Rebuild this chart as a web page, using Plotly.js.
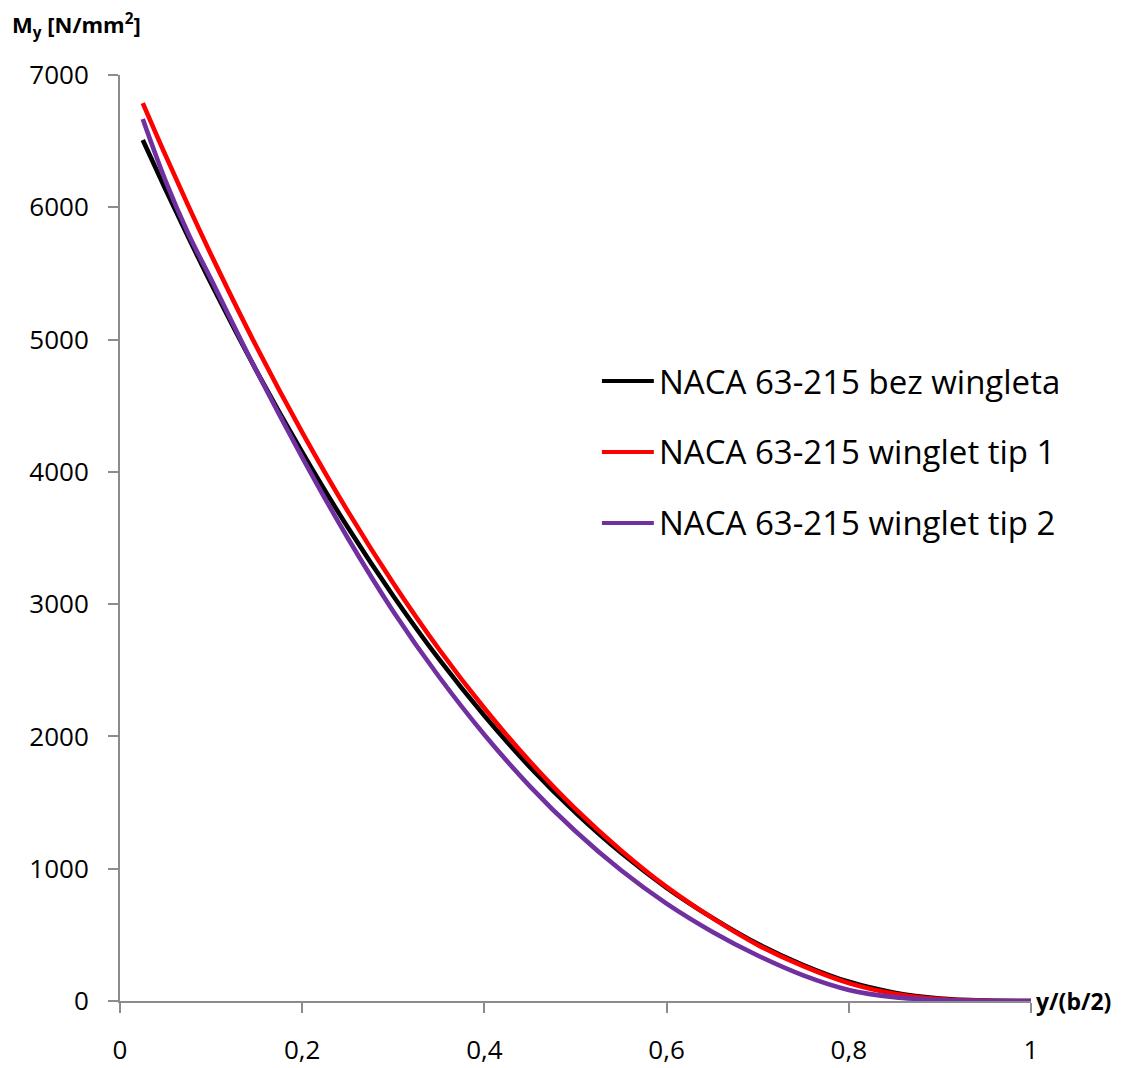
<!DOCTYPE html>
<html>
<head>
<meta charset="utf-8">
<script src="https://cdn.plot.ly/plotly-3.0.1.min.js"></script>
<style>
  html, body { margin: 0; padding: 0; background: #ffffff; }
  #chart { width: 1125px; height: 1068px; }
</style>
</head>
<body>
<div id="chart"></div>
<script>
// Span position y/(b/2)
const spanPos = [0.025, 0.05, 0.075, 0.1, 0.15, 0.2, 0.25, 0.3, 0.35, 0.4, 0.45, 0.5,
                 0.55, 0.6, 0.65, 0.7, 0.75, 0.8, 0.85, 0.9, 0.95, 1];
// NACA 63-215 bez wingleta
const bezWingleta = [6508, 6135, 5773, 5424, 4762, 4149, 3581, 3062, 2586, 2156, 1768, 1424,
                     1120, 856, 630, 432, 272, 145, 63, 19, 3, 0];
// NACA 63-215 winglet tip 1
const wingletTip1 = [6788, 6392, 6011, 5642, 4944, 4299, 3703, 3158, 2661, 2213, 1810, 1452,
                     1138, 862, 628, 424, 263, 135, 55, 15, 2, 0];
// NACA 63-215 winglet tip 2
const wingletTip2 = [6667, 6200, 5800, 5455, 4760, 4110, 3500, 2945, 2453, 2013, 1623, 1283,
                     988, 736, 524, 344, 194, 84, 29, 7, 1, 0];

const seriesNames = ['NACA 63-215 bez wingleta', 'NACA 63-215 winglet tip 1', 'NACA 63-215 winglet tip 2'];
const seriesValues = [bezWingleta, wingletTip1, wingletTip2];
const seriesColors = ['#000000', '#FF0000', '#7030A0'];
const xTicks = [0, 0.2, 0.4, 0.6, 0.8, 1];
const yTicks = [0, 1000, 2000, 3000, 4000, 5000, 6000, 7000];

const FONT = 'Open Sans, Lato, Liberation Sans, sans-serif';

const traces = seriesNames.map((name, i) => ({
  type: 'scatter',
  mode: 'lines',
  name: name,
  x: spanPos,
  y: seriesValues[i],
  line: { color: seriesColors[i], width: 4.6, shape: 'spline', smoothing: 1 },
  hoverinfo: 'x+y'
}));

const axisColor = '#8c8c8c';

// Legend drawn as paper-positioned samples + labels (Excel-style long line samples)
const legendRowsY = [0.6695, 0.5929, 0.5162];
const legendShapes = seriesNames.map((name, i) => ({
  type: 'line', xref: 'paper', yref: 'paper',
  x0: 0.529, x1: 0.586, y0: legendRowsY[i], y1: legendRowsY[i],
  line: { color: seriesColors[i], width: 4 }
}));
const legendLabels = seriesNames.map((name, i) => ({
  text: name,
  xref: 'paper', yref: 'paper',
  x: 0.589, y: legendRowsY[i],
  xanchor: 'left', yanchor: 'middle',
  showarrow: false,
  font: { family: FONT, size: 33, color: '#000000' }
}));

const layout = {
  width: 1125,
  height: 1068,
  margin: { l: 120, r: 94, t: 75, b: 67, pad: 0 },
  paper_bgcolor: '#ffffff',
  plot_bgcolor: '#ffffff',
  separators: ', ',
  font: { family: FONT, color: '#000000', size: 26 },
  showlegend: false,
  xaxis: {
    range: [0, 1],
    tickvals: xTicks,
    tickformat: '.1~f',
    showgrid: false,
    zeroline: false,
    showline: true,
    linecolor: axisColor,
    linewidth: 2,
    ticks: 'outside',
    ticklen: 10,
    tickwidth: 2,
    tickcolor: axisColor,
    ticklabelstandoff: 15,
    tickfont: { family: FONT, size: 26, color: '#000000' },
    fixedrange: true
  },
  yaxis: {
    range: [0, 7000],
    tickvals: yTicks,
    tickformat: 'd',
    showgrid: false,
    zeroline: false,
    showline: true,
    linecolor: axisColor,
    linewidth: 2,
    ticks: 'outside',
    ticklen: 10,
    tickwidth: 2,
    tickcolor: axisColor,
    ticklabelstandoff: 14,
    tickfont: { family: FONT, size: 26, color: '#000000' },
    fixedrange: true
  },
  shapes: legendShapes,
  annotations: [
    {
      text: '<b>M<sub>y</sub> [N/mm<sup>2</sup>]</b>',
      xref: 'paper', yref: 'paper',
      x: -0.121, y: 1.053,
      xanchor: 'left', yanchor: 'middle',
      showarrow: false,
      font: { family: FONT, size: 22, color: '#000000' }
    },
    {
      text: '<b>y/(b/2)</b>',
      xref: 'paper', yref: 'paper',
      x: 1.003, y: 0.0,
      xanchor: 'left', yanchor: 'middle',
      showarrow: false,
      font: { family: FONT, size: 23, color: '#000000' }
    }
  ].concat(legendLabels)
};

Plotly.newPlot('chart', traces, layout, { displayModeBar: false, staticPlot: true });
</script>
</body>
</html>
